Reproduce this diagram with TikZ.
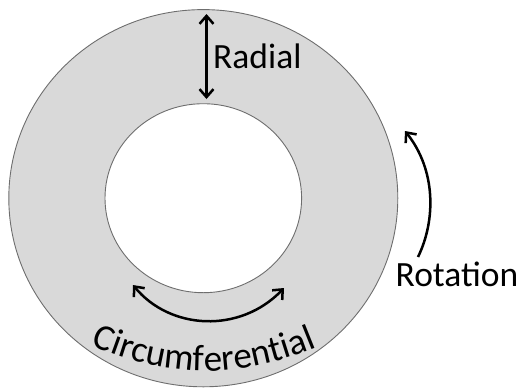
\documentclass[tikz,border=0pt]{standalone}
\usepackage{fontspec}
\setmainfont{Carlito}
\usetikzlibrary{arrows.meta,decorations.text}
\definecolor{ringfill}{HTML}{D9D9D9}
\definecolor{ringline}{HTML}{6E6E6E}
\tikzset{
  ring/.style={draw=ringline, line width=0.9pt},
  arr/.style={line width=2.5pt, black},
  myhead/.tip={Straight Barb[length=8pt,width=14pt]},
  lbl/.style={font=\fontsize{35.5}{42}\selectfont, inner sep=0pt}
}
\begin{document}
\begin{tikzpicture}[x=1pt,y=-1pt]
\useasboundingbox (0,0) rectangle (524,389);
\coordinate (c) at (203.3,198.2);
% ring
\draw[ring, fill=ringfill] (c) ellipse [x radius=194.5, y radius=188.6];
\draw[ring, fill=white] (c) ellipse [x radius=98.3, y radius=94.5];
% radial
\coordinate (r1) at (206.5,14);
\coordinate (r2) at (206.5,99);
\draw[arr, myhead-myhead] (r1) -- (r2);
\node[lbl, anchor=base west] (radial) at (213,68) {Radial};
% circumferential arrow
\coordinate (c1) at (133,285);
\coordinate (c2) at (284,288);
\draw[arr, myhead-myhead] (c1) .. controls (170,330) and (240,334) .. (c2);
% circumferential text along curve
\coordinate (t1) at (86,343);
\coordinate (t2) at (322,345);
\path[decorate, decoration={text along path, text align=center,
  text={|\fontsize{37}{44}\selectfont|Circumferential}}]
  (t1) .. controls (168,380) and (240,380) .. (t2);
% rotation
\coordinate (o1) at (418,257);
\coordinate (o2) at (405,131);
\draw[arr, -myhead] (o1) .. controls (436,220) and (436,170) .. (o2);
\node[lbl, anchor=base west] (rotation) at (395.5,286) {Rotation};
\end{tikzpicture}
\end{document}
